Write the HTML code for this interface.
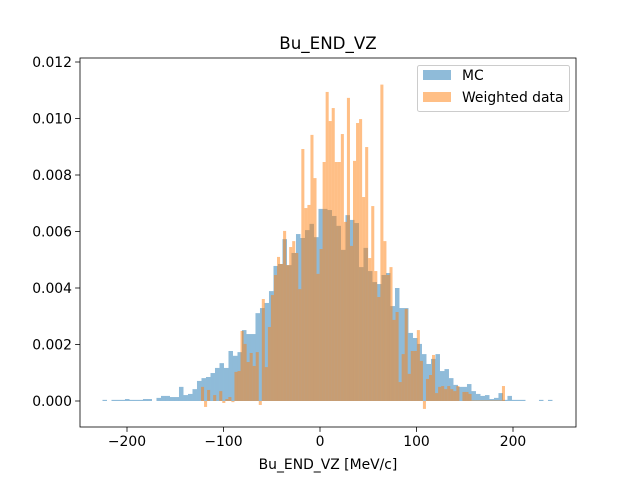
<!DOCTYPE html>
<html><head><meta charset="utf-8"><style>
body{margin:0;background:#fff;}
svg{font-family:"DejaVu Sans","Liberation Sans",sans-serif;}
</style></head><body>
<svg id="chart" width="640" height="480" viewBox="0 0 640 480">
<rect x="0" y="0" width="640" height="480" fill="#fff"/>
<g id="bars"></g>
<g id="axes"></g>
</svg>
<script>
const mcMin = -225.4, mcWidth = 4.663;
const mcValues = [0.00004,0,0.00004,0.00004,0.00004,0.00007,0.00004,0.00004,0.00004,0.00007,
0.00007,0,0.00011,0.00018,0.00018,0.00014,0.00014,0.0005,0.00021,0.00025,
0.00042,0.00071,0.00081,0.00085,0.00099,0.00117,0.00134,0.00117,0.00177,0.0016,
0.00173,0.00251,0.00237,0.00237,0.00311,0.00329,0.00347,0.00389,0.00478,0.00485,
0.00573,0.00481,0.00524,0.00591,0.00577,0.00605,0.00627,0.0058,0.0068,0.0068,
0.00676,0.00655,0.0062,0.00535,0.00658,0.00641,0.0063,0.00474,0.00542,0.0046,
0.00421,0.00414,0.00446,0.00453,0.00336,0.004,0.00329,0.00329,0.00241,0.00223,
0.00202,0.00166,0.00131,0.00149,0.00166,0.00106,0.00113,0.00081,0.00057,0.0005,
0.0005,0.0006,0.00035,0.00025,0.00018,0.00021,0.00007,0.00011,0.00028,0.00004,
0.00018,0.00004,0.00004,0.00004,0,0,0,0.00004,0,0.00004];
const dataMin = -123.3, dataWidth = 3.15;
const dataValues = [0.0005,-0.00021,0.00039,0,0.00021,0,0.00035,-0.00007,0.00007,0.00014,
-0.00004,0.00103,0.00106,0.00248,0.00202,0.00138,0.0017,0.00124,0.00173,-0.00014,
0.00361,0.0012,0.00262,0.00375,0.00446,0.0051,0.00485,0.00602,0.00481,0.00545,
0.00566,0.00524,0.00396,0.00892,0.00683,0.00694,0.00942,0.00789,0.0045,0.00538,
0.00846,0.01094,0.00991,0.01037,0.00846,0.00846,0.00945,0.00634,0.01073,0.00549,
0.0085,0.00984,0.00998,0.00722,0.00899,0.00506,0.0069,0.0046,0.00368,0.0112,
0.00566,0.00446,0.00474,0.00287,0.00315,0.00067,0.00166,0.00326,0.00096,0.00177,
0.00177,0.00251,0.00142,-0.00028,0.00078,0.00092,0.00163,0.00028,0.0005,0.00053,
0.00042,0.00053,0.00042,0.00035,0.00053,0,0.00032,0.00032,0.00025,0.00002,
0.00002,0.00002,0.00002,0.00002,0.00002,0.00002,0.00002,0.00002,0.00002,0.00053];
const xTicks = [-200,-100,0,100,200];
const yTicks = [0,0.002,0.004,0.006,0.008,0.010,0.012];
const yTickLabels = ["0.000","0.002","0.004","0.006","0.008","0.010","0.012"];

const NS="http://www.w3.org/2000/svg";
const X0=80,X1=576,Y0=58,Y1=427;
function xs(v){return 320+v*0.965;}
function ys(v){return 401-v*28250;}
function mk(tag,attrs,parent){const e=document.createElementNS(NS,tag);for(const k in attrs)e.setAttribute(k,attrs[k]);parent.appendChild(e);return e;}
const bars=document.getElementById('bars'), axes=document.getElementById('axes');
function drawSeries(vals,min,w,color,name){
  vals.forEach((v,i)=>{
    const xa=xs(min+i*w), xb=xs(min+(i+1)*w);
    const y=Math.min(ys(v),ys(0)), h=Math.abs(ys(v)-ys(0));
    if(h<=0)return;
    const r=mk('rect',{x:xa,y:y,width:xb-xa,height:h,fill:color,'fill-opacity':0.5},bars);
    
    
  });
}
drawSeries(mcValues,mcMin,mcWidth,'#1f77b4','mc');
drawSeries(dataValues,dataMin,dataWidth,'#ff7f0e','weighted-data');
mk('rect',{x:X0,y:Y0,width:X1-X0,height:Y1-Y0,fill:'none',stroke:'#000','stroke-width':0.8},axes);
xTicks.forEach(t=>{
  const x=xs(t);
  mk('line',{x1:x,x2:x,y1:Y1,y2:Y1+4.9,stroke:'#000','stroke-width':0.8},axes);
  const tx=mk('text',{x:x,y:Y1+19,'font-size':'13.9','text-anchor':'middle',fill:'#000'},axes);
  tx.textContent=(t<0?'\u2212'+(-t):t);
  
  
});
yTicks.forEach((t,i)=>{
  const y=ys(t);
  mk('line',{x1:X0-4.9,x2:X0,y1:y,y2:y,stroke:'#000','stroke-width':0.8},axes);
  const tx=mk('text',{x:X0-8,y:y+5,'font-size':'13.9','text-anchor':'end',fill:'#000'},axes);
  tx.textContent=yTickLabels[i];
  
  
});
</script>
<svg style="position:absolute;left:0;top:0" width="640" height="480">
<text x="328" y="49" font-size="16.7" text-anchor="middle" font-family="DejaVu Sans, sans-serif">Bu_END_VZ</text>
<text x="328" y="469" font-size="13.9" text-anchor="middle" font-family="DejaVu Sans, sans-serif">Bu_END_VZ [MeV/c]</text>
<g>
<rect x="417.5" y="65.5" width="152" height="46" rx="2" fill="#fff" fill-opacity="0.8" stroke="#ccc"/>
<rect x="423" y="70" width="28" height="10" fill="#1f77b4" fill-opacity="0.5"/>
<text x="462" y="80" font-size="13.9" font-family="DejaVu Sans, sans-serif">MC</text>
<rect x="423" y="92" width="28" height="10" fill="#ff7f0e" fill-opacity="0.5"/>
<text x="462" y="102" font-size="13.9" font-family="DejaVu Sans, sans-serif">Weighted data</text>
</g>
</svg>
</body></html>
